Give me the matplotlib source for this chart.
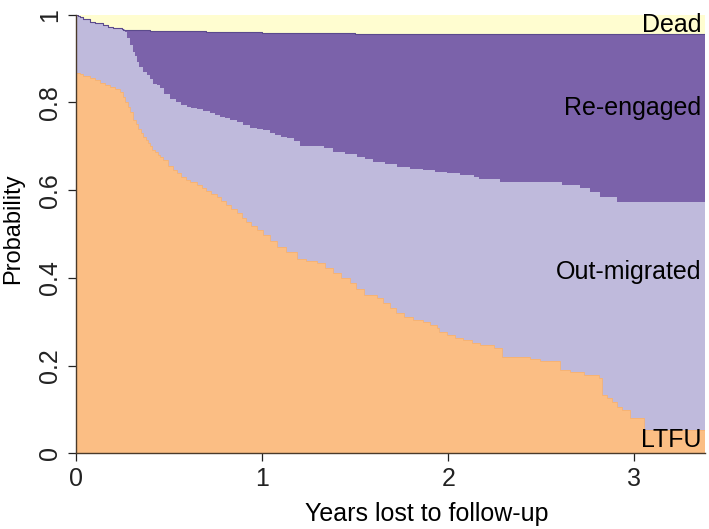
import numpy as np
import matplotlib
matplotlib.use("Agg")
import matplotlib.pyplot as plt

plt.rcParams['font.family'] = ['Liberation Sans', 'DejaVu Sans']

x_end = 3.38

# cumulative boundaries (step functions)
ltfu_t = [0.0, 0.02, 0.04, 0.075, 0.1, 0.13, 0.156, 0.18, 0.21, 0.237, 0.254, 0.265,
          0.28, 0.29, 0.308, 0.32, 0.335, 0.35, 0.362, 0.375, 0.385, 0.398, 0.41,
          0.425, 0.44, 0.452, 0.47, 0.495, 0.52, 0.541, 0.565, 0.591, 0.615, 0.649,
          0.675, 0.699, 0.725, 0.756, 0.78, 0.806, 0.835, 0.864, 0.89, 0.914, 0.94,
          0.971, 1.007, 1.043, 1.079, 1.129, 1.187, 1.237, 1.294, 1.339, 1.383,
          1.425, 1.473, 1.505, 1.545, 1.617, 1.651, 1.688, 1.72, 1.76, 1.812,
          1.867, 1.903, 1.939, 1.948, 1.993, 2.038, 2.082, 2.129, 2.172, 2.244,
          2.289, 2.441, 2.495, 2.602, 2.656, 2.727, 2.808, 2.826, 2.853, 2.88,
          2.907, 2.934, 2.978, 3.05, 3.38]
ltfu_y = [0.866, 0.864, 0.86, 0.855, 0.85, 0.845, 0.84, 0.836, 0.83, 0.824, 0.813, 0.80,
          0.79, 0.778, 0.76, 0.75, 0.74, 0.73, 0.722, 0.715, 0.708, 0.70, 0.692,
          0.686, 0.68, 0.676, 0.668, 0.656, 0.646, 0.638, 0.63, 0.624, 0.618, 0.612,
          0.605, 0.598, 0.592, 0.585, 0.576, 0.566, 0.556, 0.547, 0.537, 0.528, 0.518,
          0.509, 0.498, 0.485, 0.471, 0.458, 0.444, 0.438, 0.433, 0.422, 0.41,
          0.399, 0.388, 0.375, 0.361, 0.353, 0.342, 0.331, 0.321, 0.311, 0.305,
          0.30, 0.292, 0.285, 0.277, 0.27, 0.264, 0.258, 0.252, 0.247, 0.239,
          0.22, 0.214, 0.21, 0.19, 0.186, 0.178, 0.171, 0.133, 0.125, 0.118,
          0.106, 0.099, 0.08, 0.053, 0.053]

outm_t = [0.0, 0.01, 0.02, 0.04, 0.075, 0.1, 0.145, 0.17, 0.2, 0.22, 0.245, 0.263,
          0.275, 0.29, 0.305, 0.315, 0.326, 0.34, 0.36, 0.38, 0.395, 0.414, 0.434,
          0.45, 0.475, 0.505, 0.54, 0.565, 0.595, 0.62, 0.649, 0.685, 0.72, 0.745,
          0.774, 0.8, 0.83, 0.864, 0.9, 0.935, 0.97, 1.005, 1.04, 1.07, 1.1, 1.133,
          1.17, 1.204, 1.33, 1.382, 1.446, 1.509, 1.554, 1.597, 1.661, 1.724,
          1.796, 1.867, 1.93, 1.993, 2.065, 2.136, 2.163, 2.28, 2.611, 2.71,
          2.763, 2.817, 2.907, 3.38]
outm_y = [1.0, 0.997, 0.994, 0.99, 0.984, 0.981, 0.976, 0.973, 0.970, 0.969, 0.967, 0.961,
          0.948, 0.931, 0.915, 0.905, 0.893, 0.88, 0.87, 0.862, 0.853, 0.843, 0.84,
          0.832, 0.82, 0.807, 0.80, 0.795, 0.79, 0.788, 0.786, 0.78, 0.775, 0.771,
          0.767, 0.764, 0.76, 0.756, 0.749, 0.741, 0.739, 0.737, 0.731, 0.726, 0.722, 0.718,
          0.713, 0.70, 0.695, 0.688, 0.682, 0.676, 0.67, 0.665, 0.659, 0.653,
          0.649, 0.646, 0.642, 0.638, 0.634, 0.631, 0.625, 0.618, 0.612, 0.604,
          0.596, 0.585, 0.574, 0.574]

reeng_t = [0.0, 0.01, 0.02, 0.04, 0.075, 0.1, 0.145, 0.17, 0.2, 0.22, 0.245, 0.255,
           0.4, 0.7, 1.0, 1.5, 2.0, 2.6, 3.0, 3.38]
reeng_y = [1.0, 0.997, 0.994, 0.99, 0.984, 0.981, 0.976, 0.973, 0.970, 0.969, 0.967,
           0.965, 0.962, 0.960, 0.959, 0.957, 0.956, 0.955, 0.955, 0.955]

dead_t = [0.0, 3.38]
dead_y = [1.0, 1.0]

labels = ["Dead", "Re-engaged", "Out-migrated", "LTFU"]
label_y = [0.977, 0.787, 0.414, 0.030]

col_dead = "#fffdd0"
col_reeng = "#7b62aa"
col_outm = "#bfbadc"
col_ltfu = "#fbbe84"

fig = plt.figure(figsize=(7.09, 5.29), dpi=100)
ax = fig.add_axes([0.1072, 0.1431, 0.8872, 0.8291])

ax.fill_between(dead_t, 0, dead_y, step='post', color=col_dead, lw=0)
ax.fill_between(reeng_t, 0, reeng_y, step='post', color=col_reeng, lw=0)
ax.step(reeng_t, reeng_y, where='post', color="#5b4a8c", lw=0.8)
ax.fill_between(outm_t, 0, outm_y, step='post', color=col_outm, lw=0)
ax.fill_between(ltfu_t, 0, ltfu_y, step='post', color=col_ltfu, lw=0)
ax.step(ltfu_t, ltfu_y, where='post', color="#f6b272", lw=0.6)

for lab, yy in zip(labels, label_y):
    ax.text(3.36, yy, lab, ha='right', va='center', fontsize=18, color='black')

ax.set_xlim(0, x_end)
ax.set_ylim(0, 1)
ax.set_xticks([0, 1, 2, 3])
ax.set_xticklabels(["0", "1", "2", "3"])
ax.set_yticks([0, 0.2, 0.4, 0.6, 0.8, 1])
ax.set_yticklabels(["0", "0.2", "0.4", "0.6", "0.8", "1"], rotation=90, va='center')
ax.tick_params(direction='out', length=6, width=0.9, labelsize=18, pad=4, colors='#222222')
for s in ['top', 'right']:
    ax.spines[s].set_visible(False)
for s in ['left', 'bottom']:
    ax.spines[s].set_color('#4a3a2a')
    ax.spines[s].set_linewidth(1.0)

ax.set_xlabel("Years lost to follow-up", fontsize=18)
ax.xaxis.set_label_coords(0.558, -0.11)
ax.set_ylabel("Probability", fontsize=17)
ax.yaxis.set_label_coords(-0.082, 0.511)

fig.savefig("out.png", dpi=100)
